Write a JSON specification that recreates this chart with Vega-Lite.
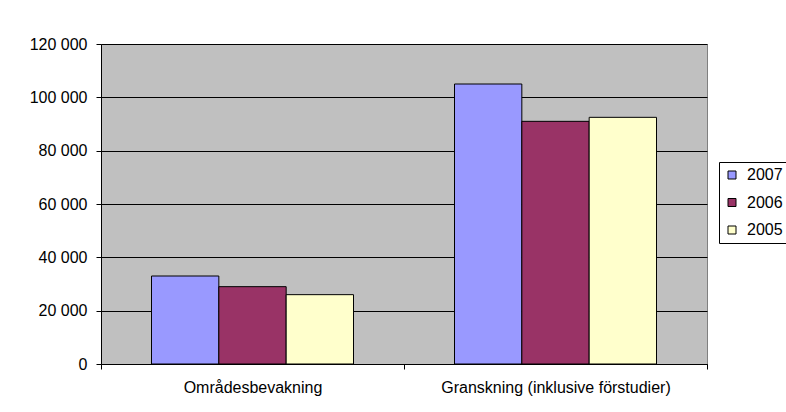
{
  "$schema": "https://vega.github.io/schema/vega-lite/v6.json",
  "width": 606,
  "height": 320,
  "autosize": {"type": "none"},
  "padding": {"left": 101, "top": 44, "right": 79, "bottom": 48},
  "background": "white",
  "data": {
    "values": [
      {"kategori": "Områdesbevakning", "år": "2007", "värde": 33000},
      {"kategori": "Områdesbevakning", "år": "2006", "värde": 29000},
      {"kategori": "Områdesbevakning", "år": "2005", "värde": 26000},
      {"kategori": "Granskning (inklusive förstudier)", "år": "2007", "värde": 105000},
      {"kategori": "Granskning (inklusive förstudier)", "år": "2006", "värde": 91000},
      {"kategori": "Granskning (inklusive förstudier)", "år": "2005", "värde": 92500}
    ]
  },
  "mark": {"type": "bar", "stroke": "black", "strokeWidth": 1},
  "encoding": {
    "x": {
      "field": "kategori",
      "type": "nominal",
      "sort": ["Områdesbevakning", "Granskning (inklusive förstudier)"],
      "scale": {"paddingInner": 0, "paddingOuter": 0},
      "axis": {
        "title": null,
        "labelAngle": 0,
        "labelLimit": 0,
        "tickBand": "extent",
        "tickSize": 5,
        "tickColor": "black",
        "domainColor": "black",
        "labelPadding": 10,
        "labelFont": "Liberation Sans",
        "labelFontSize": 16,
        "labelColor": "black",
        "grid": false
      }
    },
    "xOffset": {
      "field": "år",
      "type": "nominal",
      "sort": ["2007", "2006", "2005"],
      "scale": {"paddingInner": 0, "paddingOuter": 0.75}
    },
    "y": {
      "field": "värde",
      "type": "quantitative",
      "scale": {"domain": [0, 120000], "nice": false},
      "axis": {
        "title": null,
        "values": [0, 20000, 40000, 60000, 80000, 100000, 120000],
        "labelExpr": "replace(format(datum.value, ','), ',', ' ')",
        "tickSize": 5,
        "tickColor": "black",
        "domainColor": "black",
        "gridColor": "black",
        "gridWidth": 1,
        "gridOpacity": 1,
        "labelPadding": 9,
        "labelFont": "Liberation Sans",
        "labelFontSize": 16,
        "labelColor": "black"
      }
    },
    "color": {
      "field": "år",
      "type": "nominal",
      "sort": ["2007", "2006", "2005"],
      "scale": {"domain": ["2007", "2006", "2005"], "range": ["#9999FF", "#993366", "#FFFFCC"]},
      "legend": {
        "title": null,
        "orient": "none",
        "legendX": 618,
        "legendY": 118,
        "strokeColor": "black",
        "fillColor": "white",
        "padding": 5,
        "symbolType": "square",
        "symbolSize": 64,
        "symbolStrokeColor": "black",
        "symbolStrokeWidth": 1,
        "labelFont": "Liberation Sans",
        "labelFontSize": 16,
        "labelColor": "black",
        "labelLimit": 0,
        "rowPadding": 11.5,
        "labelOffset": 7
      }
    }
  },
  "config": {
    "view": {"fill": "#C0C0C0", "stroke": "#808080", "strokeWidth": 1}
  }
}
